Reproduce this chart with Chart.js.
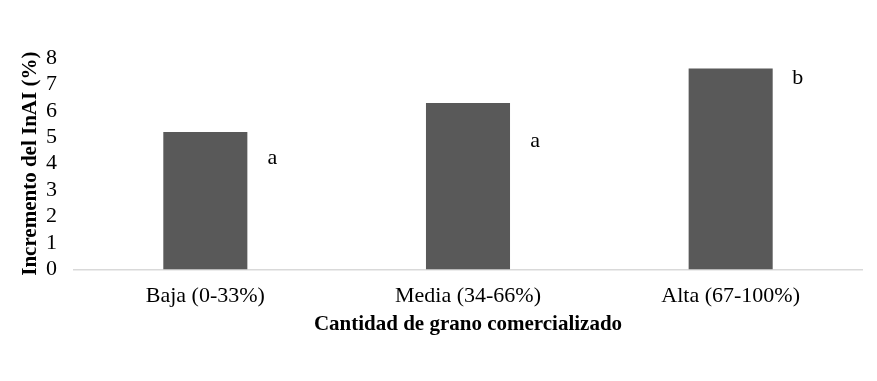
<!DOCTYPE html>
<html>
<head>
<meta charset="utf-8">
<script src="https://cdn.jsdelivr.net/npm/chart.js@4/dist/chart.umd.min.js"></script>
<style>
  html, body { margin: 0; padding: 0; background: #fff; }
  #wrap { width: 877px; height: 381px; position: relative; }
</style>
</head>
<body>
<div id="wrap"><canvas id="myChart"></canvas></div>
<script>
// datos del gráfico
const categories = ['Baja (0-33%)', 'Media (34-66%)', 'Alta (67-100%)'];
const incremento = [5.2, 6.3, 7.6];
const letters = ['a', 'a', 'b'];
const letterLevels = [4.2, 4.85, 7.25]; // altura de las letras (en %)
const yTicks = [0, 1, 2, 3, 4, 5, 6, 7, 8];

const serif = '"Liberation Serif", "Times New Roman", serif';

// letras de significancia a la derecha de cada barra
const letterPlugin = {
    id: 'letters',
    afterDatasetsDraw(chart) {
        const ctx = chart.ctx;
        const meta = chart.getDatasetMeta(0);
        const yScale = chart.scales.y;
        ctx.save();
        ctx.font = '22px ' + serif;
        ctx.fillStyle = '#000';
        ctx.textAlign = 'center';
        ctx.textBaseline = 'middle';
        meta.data.forEach((bar, i) => {
            const x = bar.x + bar.width / 2 + 25;
            ctx.fillText(letters[i], x, yScale.getPixelForValue(letterLevels[i]));
        });
        ctx.restore();
    }
};

const ctx = document.getElementById('myChart').getContext('2d');
const myChart = new Chart(ctx, {
    type: 'bar',
    data: {
        labels: categories,
        datasets: [{
            data: incremento,
            backgroundColor: '#595959',
            borderWidth: 0,
            barPercentage: 0.32,
            categoryPercentage: 1
        }]
    },
    options: {
        responsive: true,
        maintainAspectRatio: false,
        animation: false,
        layout: {
            padding: { top: 58, right: 15, bottom: 44, left: 18 }
        },
        plugins: {
            legend: { display: false },
            tooltip: { enabled: false }
        },
        scales: {
            x: {
                grid: { display: false, drawTicks: false },
                border: { display: true, color: '#d9d9d9', width: 1.5 },
                ticks: {
                    color: '#000',
                    padding: 14,
                    font: { family: serif, size: 22 }
                },
                title: {
                    display: true,
                    text: 'Cantidad de grano comercializado',
                    color: '#000',
                    padding: { top: -12, bottom: 0 },
                    font: { family: serif, size: 21, weight: 'bold' }
                }
            },
            y: {
                min: 0,
                max: 8,
                afterBuildTicks: scale => {
                    scale.ticks = yTicks.map(v => ({ value: v }));
                },
                afterFit: scale => {
                    scale.width = 56;
                },
                grid: { display: false, drawTicks: false },
                border: { display: false },
                ticks: {
                    color: '#000',
                    autoSkip: false,
                    padding: 17,
                    font: { family: serif, size: 22 }
                },
                title: {
                    display: true,
                    text: 'Incremento del InAI (%)',
                    color: '#000',
                    padding: { top: 0, bottom: 0 },
                    font: { family: serif, size: 21, weight: 'bold' }
                }
            }
        }
    },
    plugins: [letterPlugin]
});
</script>
</body>
</html>
